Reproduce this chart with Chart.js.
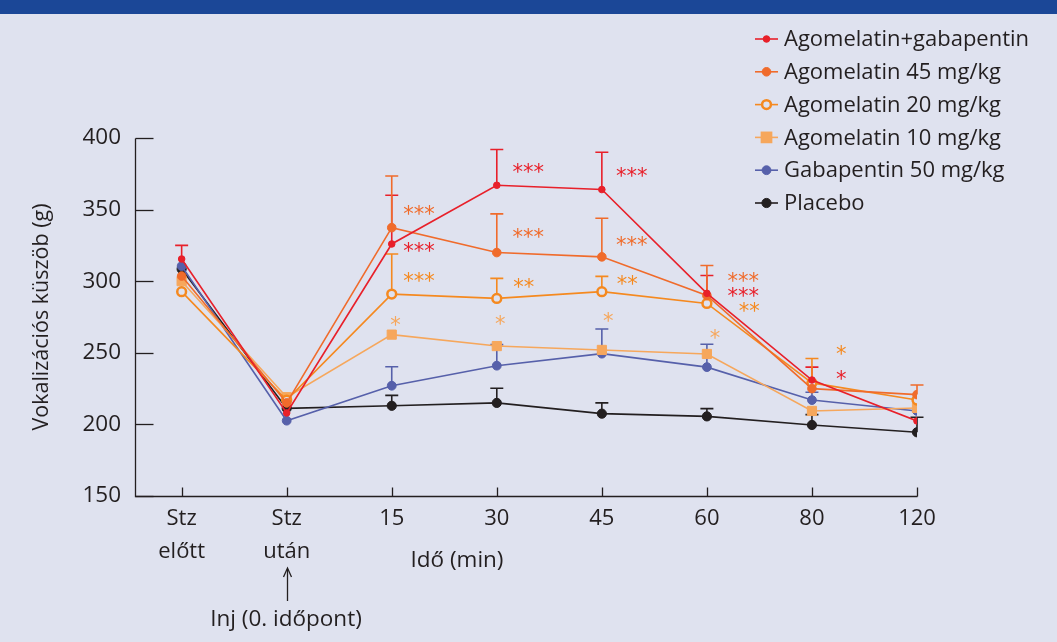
<!DOCTYPE html>
<html><head><meta charset="utf-8">
<script src="https://cdn.jsdelivr.net/npm/chart.js@4/dist/chart.umd.min.js"></script>
<style>html,body{margin:0;padding:0;background:#dfe2ef;}canvas{display:block}</style>
</head><body><canvas id="c" width="1057" height="642"></canvas>
<script>
// ---- data ----
const xLabels = [['Stz','előtt'], ['Stz','után'], '15', '30', '45', '60', '80', '120'];
const seriesNames = ['Agomelatin+gabapentin','Agomelatin 45 mg/kg','Agomelatin 20 mg/kg','Agomelatin 10 mg/kg','Gabapentin 50 mg/kg','Placebo'];
const agoGaba   = [315.5, 208, 326, 367, 364, 291.5, 231, 202.4];
const ago45     = [303.6, 215, 337.4, 320, 317, 290, 225, 220.8];
const ago20     = [292.7, 217, 291, 288, 292.7, 284.5, 229, 217];
const ago10     = [300, 219, 262.7, 254.7, 252, 249.2, 209.4, 211.5];
const gaba50    = [310.6, 202.6, 227, 241, 249.4, 240, 217, 209.4];
const placebo   = [308.5, 211.2, 213, 215, 207.5, 205.6, 199.6, 194.5];
// upper error limits (null = no bar)
const agoGabaErr = [325, null, 360, 392, 390, 304, 240, null];
const ago45Err   = [null, null, 373.5, 347, 344, 311, null, 227.5];
const ago20Err   = [null, null, 319, 302, 303.4, null, 246, null];
const ago10Err   = [null, null, null, null, null, null, null, null];
const gaba50Err  = [null, null, 240.3, 255.7, 266.6, 256, 222.4, null];
const placeboErr = [null, null, 220.3, 225.2, 215, 211, 206.8, 205];
const yTicks = [150, 200, 250, 300, 350, 400];
// significance marks: category position, value, text, series
const starX = [2.26, 2.26, 2.26, 2.035, 3.30, 3.30, 3.256, 3.032, 4.285, 4.285, 4.242, 4.061, 5.347, 5.347, 5.404, 5.077, 6.28, 6.28];
const starY = [349.7, 323.9, 302.9, 272, 379.3, 333.7, 299, 272.7, 376, 328, 300.8, 275, 302.7, 292.2, 282.2, 263, 252, 234.5];
const starText = ['***','***','***','*','***','***','**','*','***','***','**','*','***','***','**','*','*','*'];
const starSeries = [1,0,2,3, 0,1,2,3, 0,1,2,3, 1,0,2,3, 2,0];

// ---- styles ----
const BG = '#dfe2ef', BAND = '#1b4797', INK = '#231f20';
const FONT = '"Open Sans", "Noto Sans", sans-serif';
const colors = ['#e8202a', '#f06b2b', '#f5891f', '#f6a75c', '#5660aa', '#231f20'];
const allVals = [agoGaba, ago45, ago20, ago10, gaba50, placebo];
const allErr = [agoGabaErr, ago45Err, ago20Err, ago10Err, gaba50Err, placeboErr];
const pStyle = ['circle','circle','circle','rect','circle','circle'];
const pRad = [3.3, 4.3, 4.4, 6.5, 4.4, 4.6];
const pFill = [colors[0], colors[1], BG, colors[3], colors[4], colors[5]];
const pBorderW = [1, 1, 2.5, 1, 1, 1];

const datasets = allVals.map((vals, k) => ({
  label: seriesNames[k],
  data: vals.map((v, i) => ({x: i, y: v})),
  borderColor: colors[k],
  backgroundColor: pFill[k],
  borderWidth: 1.6,
  pointStyle: pStyle[k],
  pointRadius: pRad[k],
  pointBorderWidth: pBorderW[k],
  pointBorderColor: colors[k],
  pointBackgroundColor: pFill[k],
  tension: 0,
  fill: false
}));

function drawMarker(ctx, k, x, y) {
  ctx.save();
  ctx.lineWidth = pBorderW[k];
  ctx.strokeStyle = colors[k];
  ctx.fillStyle = pFill[k];
  if (pStyle[k] === 'rect') {
    const r = pRad[k] * 0.9;
    ctx.fillRect(x - r, y - r, 2 * r, 2 * r);
  } else {
    ctx.beginPath(); ctx.arc(x, y, pRad[k], 0, Math.PI * 2);
    ctx.fill(); ctx.stroke();
  }
  ctx.restore();
}

const deco = {
  id: 'deco',
  beforeDraw(chart) {
    const ctx = chart.ctx;
    ctx.save();
    ctx.fillStyle = BG; ctx.fillRect(0, 0, chart.width, chart.height);
    ctx.fillStyle = BAND; ctx.fillRect(0, 0, chart.width, 14);
    ctx.restore();
  },
  beforeDatasetsDraw(chart) {
    const ctx = chart.ctx, xs = chart.scales.x, ys = chart.scales.y;
    ctx.save();
    ctx.lineWidth = 1.6;
    allErr.forEach((errs, k) => {
      ctx.strokeStyle = colors[k];
      errs.forEach((e, i) => {
        if (e == null) return;
        const x = xs.getPixelForValue(i);
        const y0 = ys.getPixelForValue(allVals[k][i]);
        const y1 = ys.getPixelForValue(e);
        ctx.beginPath();
        ctx.moveTo(x, y0); ctx.lineTo(x, y1);
        ctx.moveTo(x - 6.5, y1); ctx.lineTo(x + 6.5, y1);
        ctx.stroke();
      });
    });
    ctx.restore();
  },
  afterDraw(chart) {
    const ctx = chart.ctx, xs = chart.scales.x, ys = chart.scales.y, ca = chart.chartArea;
    ctx.save();
    // axes lines and inward tick marks
    ctx.strokeStyle = INK; ctx.lineWidth = 1.3;
    const L = Math.round(ca.left) + 0.5, B = Math.round(ca.bottom) + 0.5;
    ctx.beginPath(); ctx.moveTo(L, Math.round(ca.top) + 0.5); ctx.lineTo(L, B); ctx.lineTo(Math.round(ca.right) + 0.5, B); ctx.stroke();
    yTicks.forEach(v => {
      const y = Math.round(ys.getPixelForValue(v)) + 0.5;
      ctx.beginPath(); ctx.moveTo(L, y); ctx.lineTo(L + 18, y); ctx.stroke();
    });
    xLabels.forEach((_, i) => {
      const x = Math.round(xs.getPixelForValue(i)) + 0.5;
      ctx.beginPath(); ctx.moveTo(x, B); ctx.lineTo(x, B - 9); ctx.stroke();
    });
    // significance stars
    ctx.font = '21px "DejaVu Sans", sans-serif';
    ctx.textAlign = 'center';
    ctx.textBaseline = 'alphabetic';
    starText.forEach((t, j) => {
      const x = xs.getPixelForValue(starX[j]);
      const y = ys.getPixelForValue(starY[j]);
      const m = ctx.measureText(t);
      const off = (m.actualBoundingBoxAscent - m.actualBoundingBoxDescent) / 2;
      ctx.fillStyle = colors[starSeries[j]];
      ctx.fillText(t, x, y + off);
    });
    // legend
    ctx.font = '22px ' + FONT;
    ctx.textAlign = 'left'; ctx.textBaseline = 'middle';
    seriesNames.forEach((name, k) => {
      const y = 39 + k * 32.8;
      ctx.strokeStyle = colors[k]; ctx.lineWidth = 1.6;
      ctx.beginPath(); ctx.moveTo(755, y); ctx.lineTo(778, y); ctx.stroke();
      drawMarker(ctx, k, 766.5, y);
      ctx.fillStyle = INK;
      ctx.fillText(name, 784, y + 1);
    });
    // extra axis texts
    ctx.font = '22.5px ' + FONT;
    ctx.textAlign = 'center';
    ctx.fillStyle = INK;
    ctx.fillText('Idő (min)', 457, 561);
    ctx.fillText('Inj (0. időpont)', 286, 620);
    // arrow
    const ax = Math.round(xs.getPixelForValue(1)) + 0.5;
    ctx.strokeStyle = INK; ctx.lineWidth = 1.3;
    ctx.beginPath(); ctx.moveTo(ax, 601); ctx.lineTo(ax, 569); ctx.stroke();
    ctx.beginPath(); ctx.moveTo(ax - 4, 577); ctx.lineTo(ax, 568); ctx.lineTo(ax + 4, 577); ctx.stroke();
    ctx.restore();
  }
};

new Chart(document.getElementById('c'), {
  type: 'line',
  data: { datasets },
  options: {
    responsive: false, animation: false,
    layout: { padding: { left: 0, top: 138, right: 140, bottom: 72 } },
    plugins: { legend: { display: false }, tooltip: { enabled: false } },
    scales: {
      x: {
        type: 'linear', min: -0.444, max: 7,
        afterBuildTicks: s => { s.ticks = xLabels.map((_, i) => ({ value: i })); },
        afterFit: s => { s.height = 74; },
        grid: { display: false, drawTicks: false },
        border: { display: false },
        ticks: { callback: v => xLabels[v], color: INK, font: { family: FONT, size: 22, lineHeight: 1.5 }, padding: 6, maxRotation: 0, autoSkip: false }
      },
      y: {
        min: 150, max: 400,
        afterBuildTicks: s => { s.ticks = yTicks.map(v => ({ value: v })); },
        afterFit: s => { s.width = 135; },
        grid: { display: false, drawTicks: false },
        border: { display: false },
        ticks: { color: INK, font: { family: FONT, size: 22.5 }, padding: 14 },
        title: { display: true, text: 'Vokalizációs küszöb (g)', color: INK, font: { family: FONT, size: 21.5 }, padding: { top: 29, bottom: 0 } }
      }
    }
  },
  plugins: [deco]
});
</script>
</body></html>
